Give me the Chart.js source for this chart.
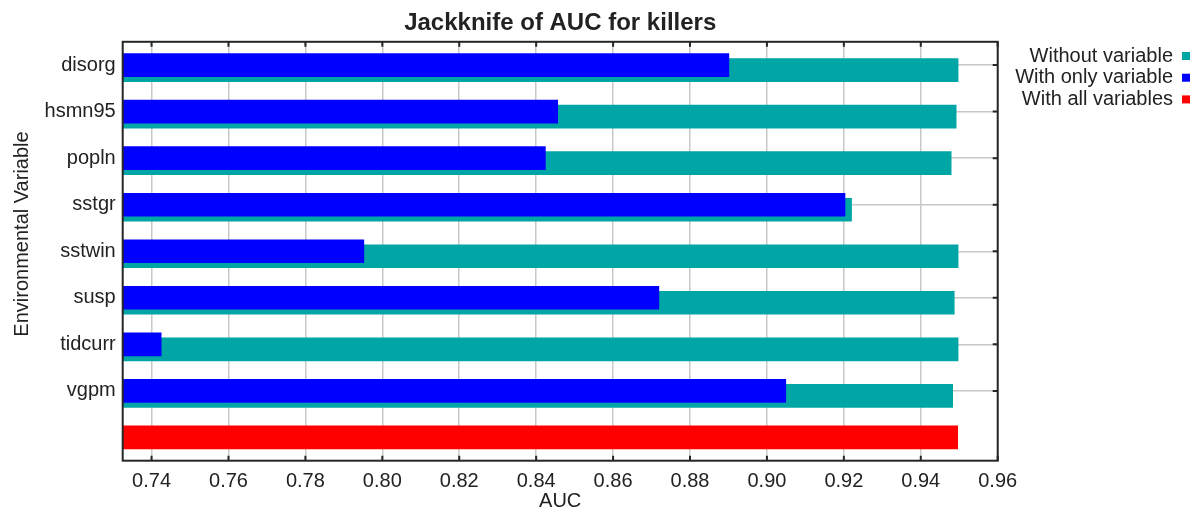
<!DOCTYPE html>
<html>
<head>
<meta charset="utf-8">
<title>Jackknife of AUC for killers</title>
<script src="https://cdn.jsdelivr.net/npm/chart.js@4/dist/chart.umd.min.js"></script>
<style>
  html, body { margin: 0; padding: 0; background: #ffffff; }
  #wrap { position: relative; width: 1201px; height: 513px; }
</style>
</head>
<body>
<div id="wrap"><canvas id="chart"></canvas></div>
<script>
// Environmental variables tested in the jackknife
const variables = ['disorg', 'hsmn95', 'popln', 'sstgr', 'sstwin', 'susp', 'tidcurr', 'vgpm'];
// AUC of the model built without each variable
const withoutVariable = [0.9497, 0.9492, 0.9479, 0.9220, 0.9497, 0.9487, 0.9497, 0.9483];
// AUC of the model built with only that variable
const withOnlyVariable = [0.8901, 0.8456, 0.8424, 0.9203, 0.7952, 0.8719, 0.7425, 0.9049];
// AUC of the full model
const withAllVariables = 0.9496;
// AUC axis
const aucMin = 0.7325;
const aucMax = 0.96;
const aucStep = 0.02;

const seriesNames = ['Without variable', 'With only variable', 'With all variables'];
const seriesColors = ['rgb(0,166,166)', 'rgb(0,0,255)', 'rgb(255,0,0)'];

const FONT = "'Liberation Sans', Arial, Helvetica, sans-serif";
const TEXT = '#222222';

// last row holds the full-model bar and has no label
const rows = variables.concat(['']);
const teal = withoutVariable.concat([null]);
const blue = withOnlyVariable.concat([null]);
const red = variables.map(() => null).concat([withAllVariables]);

// shifts the "without" bars a little below the "with only" bars
const shiftPlugin = {
  id: 'shiftWithout',
  beforeDatasetDraw(chart, args) {
    if (args.index === 0) { chart.ctx.save(); chart.ctx.translate(0, 5); }
  },
  afterDatasetDraw(chart, args) {
    if (args.index === 0) chart.ctx.restore();
  }
};

// plot frame with inward tick marks, y-axis title and legend
const framePlugin = {
  id: 'frame',
  afterDraw(chart) {
    const { ctx, chartArea: a, scales } = chart;
    ctx.save();
    ctx.strokeStyle = '#262626';
    ctx.lineWidth = 2;
    ctx.strokeRect(a.left, a.top, a.right - a.left, a.bottom - a.top);
    ctx.beginPath();
    scales.x.ticks.forEach((t, i) => {
      const px = scales.x.getPixelForTick(i);
      ctx.moveTo(px, a.top); ctx.lineTo(px, a.top + 5);
      ctx.moveTo(px, a.bottom); ctx.lineTo(px, a.bottom - 5);
    });
    variables.forEach((v, i) => {
      const py = scales.y.getPixelForTick(i);
      ctx.moveTo(a.right, py); ctx.lineTo(a.right - 5, py);
    });
    ctx.stroke();

    // y-axis title
    ctx.fillStyle = TEXT;
    ctx.font = '20px ' + FONT;
    ctx.textAlign = 'center';
    ctx.textBaseline = 'middle';
    ctx.translate(22, 234);
    ctx.rotate(-Math.PI / 2);
    ctx.fillText('Environmental Variable', 0, 0);
    ctx.restore();

    // legend: right-aligned names with a colour square on the right
    ctx.save();
    ctx.font = '20px ' + FONT;
    ctx.textAlign = 'right';
    ctx.textBaseline = 'middle';
    chart.data.datasets.forEach((ds, i) => {
      const y = 56 + i * 21.7;
      ctx.fillStyle = TEXT;
      ctx.fillText(ds.label, 1173, y);
      ctx.fillStyle = ds.backgroundColor;
      ctx.fillRect(1182, y - 4, 8, 8);
    });
    ctx.restore();
  }
};

new Chart(document.getElementById('chart'), {
  type: 'bar',
  data: {
    labels: rows,
    datasets: [
      { label: seriesNames[0], data: teal, backgroundColor: seriesColors[0], order: 2 },
      { label: seriesNames[1], data: blue, backgroundColor: seriesColors[1], order: 1 },
      { label: seriesNames[2], data: red, backgroundColor: seriesColors[2], order: 0 }
    ]
  },
  options: {
    indexAxis: 'y',
    responsive: true,
    maintainAspectRatio: false,
    animation: false,
    grouped: false,
    barThickness: 23,
    layout: { padding: { left: 0, right: 203.3, top: 0, bottom: 0 } },
    plugins: {
      legend: { display: false },
      tooltip: { enabled: false },
      title: {
        display: true,
        fullSize: false,
        text: 'Jackknife of AUC for killers',
        color: TEXT,
        font: { family: FONT, size: 24, weight: 'bold' },
        padding: { top: 9, bottom: 4 }
      }
    },
    scales: {
      x: {
        type: 'linear',
        min: aucMin,
        max: aucMax,
        afterFit(s) { s.height = 52.3; },
        grid: { color: 'rgb(200,200,200)', lineWidth: 1.5, drawTicks: false },
        border: { display: false },
        ticks: {
          stepSize: aucStep,
          includeBounds: false,
          padding: 9,
          color: TEXT,
          font: { family: FONT, size: 20 },
          callback: v => Number(v).toFixed(2)
        },
        title: {
          display: true,
          text: 'AUC',
          color: TEXT,
          font: { family: FONT, size: 20 },
          padding: { top: 0, bottom: 0 }
        }
      },
      y: {
        type: 'category',
        offset: true,
        afterFit(s) { s.width = 122.7; },
        grid: {
          offset: false,
          drawTicks: false,
          lineWidth: 1.5,
          color: ctx => (ctx.index < variables.length ? 'rgb(200,200,200)' : 'rgba(0,0,0,0)')
        },
        border: { display: false },
        ticks: { padding: 7, color: TEXT, font: { family: FONT, size: 20 } }
      }
    }
  },
  plugins: [shiftPlugin, framePlugin]
});
</script>
</body>
</html>
